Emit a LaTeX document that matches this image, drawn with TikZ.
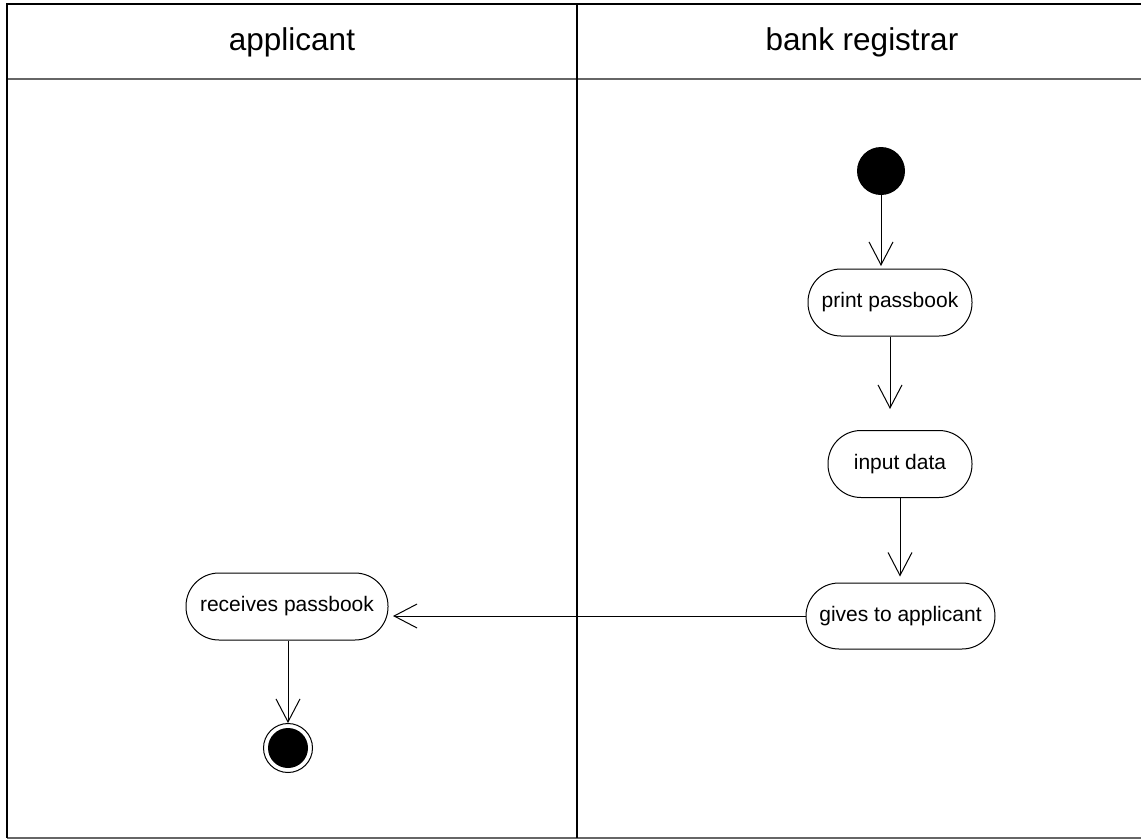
\documentclass[tikz,border=0pt]{standalone}
\usepackage{fontspec}
\setmainfont{Liberation Sans}
\usetikzlibrary{arrows.meta}
\begin{document}
\begin{tikzpicture}[x=1pt,y=-1pt,
  act/.style={draw,line width=1pt,rounded corners=33pt,minimum height=67pt,inner sep=0pt,font=\fontsize{21}{25}\selectfont},
  hdr/.style={font=\fontsize{31.5}{36}\selectfont},
  flow/.style={draw,line width=1pt,-{Straight Barb[length=23pt,width=24pt,line width=1pt]}},
  frame/.style={line width=2pt},
  grayframe/.style={line width=2pt,draw=black!60}]
\useasboundingbox (0,0) rectangle (1141,839);
% swimlane frame
\draw[grayframe] (6.5,79) -- (1145,79);
\draw[grayframe] (6.5,838) -- (1145,838);
\draw[frame] (1145,4) -- (6.5,4) -- (6.5,838);
\draw[frame] (577,4) -- (577,838);
\node[hdr] (lane1) at (292,42) {applicant};
\node[hdr] (lane2) at (862,42) {bank registrar};
% nodes
\node[circle,fill=black,minimum size=48pt,inner sep=0pt] (start) at (881,171) {};
\node[act,minimum width=164pt] (print) at (890,302.5) {print passbook};
\node[act,minimum width=144pt] (input) at (900,464) {input data};
\node[act,minimum width=189pt,minimum height=66pt] (gives) at (900.5,616) {gives to applicant};
\node[act,minimum width=202pt] (recv) at (287,606.5) {receives passbook};
\node[circle,draw,line width=1pt,minimum size=49pt,inner sep=0pt] (end) at (288,748) {};
\node[circle,fill=black,minimum size=40pt,inner sep=0pt] (endin) at (end.center) {};
% connectors
\coordinate (t1) at (881,266);
\draw[flow] (start.south) -- (t1);
\draw[flow,shorten >=21pt] (print.south) -- (print.south |- input.north);
\draw[flow,shorten >=6pt] (input.south) -- (input.south |- gives.north);
\coordinate (t3) at (393,616);
\draw[flow] (gives.west) -- (t3);
\draw[flow] (recv.south -| end.north) -- (end.north);
\end{tikzpicture}
\end{document}
